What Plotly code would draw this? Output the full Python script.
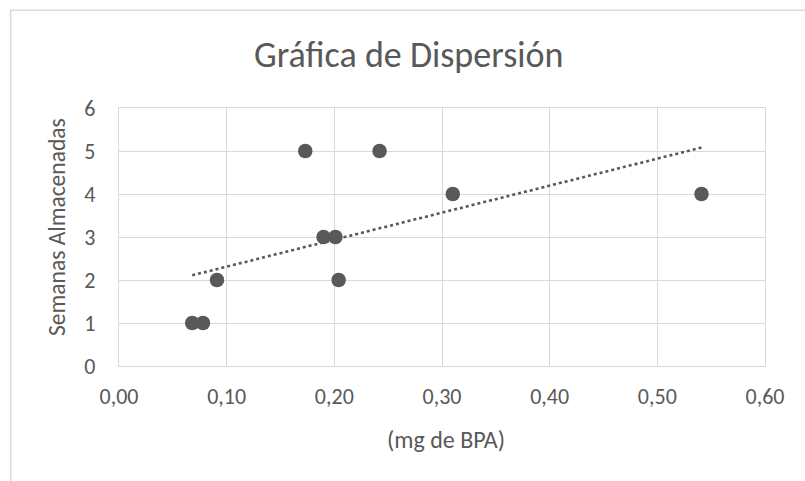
import numpy as np
import plotly.graph_objects as go

# Data
mg_bpa = [0.068, 0.078, 0.091, 0.173, 0.190, 0.201, 0.204, 0.242, 0.310, 0.541]
semanas = [1, 1, 2, 5, 3, 3, 2, 5, 4, 4]

x_ticks = [0.0, 0.1, 0.2, 0.3, 0.4, 0.5, 0.6]
x_tick_labels = ["0,00", "0,10", "0,20", "0,30", "0,40", "0,50", "0,60"]
y_ticks = [0, 1, 2, 3, 4, 5, 6]

title_text = "Gráfica de Dispersión"
x_title = "(mg de BPA)"
y_title = "Semanas Almacenadas"

# Linear trendline (least squares) over data range
slope, intercept = np.polyfit(mg_bpa, semanas, 1)
tx = [min(mg_bpa), max(mg_bpa)]
ty = [slope * v + intercept for v in tx]

W, H = 805, 481
L, R, T, B = 119.3, 40, 107.7, 481 - 365.7
pw, ph = W - L - R, H - T - B

txt = "#595959"
grid = "#d9d9d9"
font_family = "Carlito, Calibri, Lato, 'Open Sans', sans-serif"


def px_x(p):
    return (p - L) / pw


def px_y(p):
    return (H - B - p) / ph


fig = go.Figure()
fig.add_trace(go.Scatter(x=tx, y=ty, mode="lines",
                         line=dict(color="#595959", width=2.6, dash="dot"),
                         hoverinfo="skip", showlegend=False))
fig.add_trace(go.Scatter(x=mg_bpa, y=semanas, mode="markers",
                         marker=dict(color="#595959", size=14.5),
                         showlegend=False))

fig.update_layout(
    width=W, height=H,
    margin=dict(l=L, r=R, t=T, b=B),
    paper_bgcolor="white", plot_bgcolor="white",
    font=dict(family=font_family, color=txt, size=22),
    xaxis=dict(range=[0, 0.6], tickvals=x_ticks, ticktext=x_tick_labels,
               showgrid=True, gridcolor=grid, gridwidth=1.3,
               showline=True, linecolor=grid, linewidth=1.3, mirror=True,
               zeroline=False, ticks="", ticklabelstandoff=10,
               tickfont=dict(size=22, color=txt)),
    yaxis=dict(range=[0, 6], tickvals=y_ticks,
               showgrid=True, gridcolor=grid, gridwidth=1.3,
               showline=True, linecolor=grid, linewidth=1.3, mirror=True,
               zeroline=False, ticks="", ticklabelstandoff=18,
               tickfont=dict(size=22, color=txt)),
    annotations=[
        dict(text=title_text, xref="paper", yref="paper",
             x=px_x(409), y=px_y(55), xanchor="center", yanchor="middle",
             showarrow=False, font=dict(size=36, color=txt, family=font_family)),
        dict(text=x_title, xref="paper", yref="paper",
             x=px_x(446), y=px_y(439), xanchor="center", yanchor="middle",
             showarrow=False, font=dict(size=24, color=txt, family=font_family)),
        dict(text=y_title, xref="paper", yref="paper", textangle=-90,
             x=px_x(58), y=px_y(227), xanchor="center", yanchor="middle",
             showarrow=False, font=dict(size=23.5, color=txt, family=font_family)),
    ],
    shapes=[dict(type="rect", xref="paper", yref="paper",
                 x0=px_x(11), x1=px_x(820), y0=px_y(500), y1=px_y(10),
                 line=dict(color=grid, width=1.5), fillcolor="rgba(0,0,0,0)",
                 layer="below")],
)

fig.write_html("out.html",
               config={"displayModeBar": False},
               post_script="document.body.style.margin='0';document.body.style.overflow='hidden';")
